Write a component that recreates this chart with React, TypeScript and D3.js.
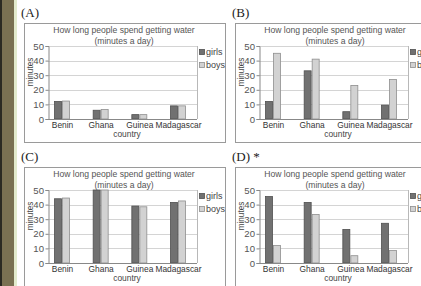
import React, { useEffect, useRef } from "react";
import * as d3 from "d3";

const countries = ["Benin", "Ghana", "Guinea", "Madagascar"];
const groups = ["girls", "boys"];
const yTicks = [0, 10, 20, 30, 40, 50];

const girlsA = [12, 6, 3, 9];
const boysA = [12.3, 6.5, 3, 9];
const girlsB = [12, 33, 5, 9.5];
const boysB = [45, 41, 23, 27];
const girlsC = [44, 50, 39, 41.5];
const boysC = [44.5, 50, 38.5, 42.5];
const girlsD = [45.5, 41.5, 23, 27.2];
const boysD = [12, 33.2, 5, 8.5];

const panelLabels = ["(A)", "(B)", "(C)", "(D) *"];
const panelGirls = [girlsA, girlsB, girlsC, girlsD];
const panelBoys = [boysA, boysB, boysC, boysD];

const W = 421;
const H = 286;
const SANS = "Liberation Sans, Arial, sans-serif";

export default function App() {
  const ref = useRef(null);

  useEffect(() => {
    const svg = d3.select(ref.current);
    svg.selectAll("*").remove();

    svg.append("rect").attr("width", W).attr("height", H).attr("fill", "#ffffff");

    // dark page edge on the left
    svg.append("rect").attr("x", 0).attr("y", 0).attr("width", 2).attr("height", H).attr("fill", "#2b2a22");
    svg.append("rect").attr("x", 2).attr("y", 0).attr("width", 12).attr("height", H).attr("fill", "#7a7152");
    svg.append("rect").attr("x", 14).attr("y", 0).attr("width", 3).attr("height", H).attr("fill", "#e3ebcd");

    const colour = d3.scaleOrdinal().domain(groups).range(["#717171", "#d2d2d2"]);
    const edge = d3.scaleOrdinal().domain(groups).range(["#505050", "#8e8e8e"]);

    panelLabels.forEach((label, i) => {
      const ox = i % 2 === 0 ? 0 : 211;
      const oy = i < 2 ? 0 : 144;
      const p = svg.append("g").attr("transform", `translate(${ox},${oy})`);

      p.append("text")
        .attr("x", 21)
        .attr("y", 17)
        .attr("font-family", "Liberation Serif, serif")
        .attr("font-size", 13)
        .attr("fill", "#222")
        .text(label);

      const box = p.append("g").attr("transform", "translate(24,23)");
      box.append("rect")
        .attr("x", 0.5)
        .attr("y", 0.5)
        .attr("width", 201)
        .attr("height", 119)
        .attr("fill", "#fff")
        .attr("stroke", "#9a9a9a");

      const px0 = 24, px1 = 173, py0 = 23, py1 = 96;
      const y = d3.scaleLinear().domain([0, 50]).range([py1, py0]);
      const x = d3.scalePoint().domain(countries).range([px0 + 14, px0 + 130]);
      const xg = d3.scaleBand().domain(groups).range([-8, 8]);

      // title
      const title = box.append("g")
        .attr("font-family", SANS)
        .attr("font-size", 8.6)
        .attr("fill", "#555")
        .attr("text-anchor", "middle");
      title.append("text").attr("x", 100).attr("y", 10).text("How long people spend getting water");
      title.append("text").attr("x", 100).attr("y", 21).text("(minutes a day)");

      // gridlines
      box.append("g")
        .selectAll("line")
        .data(yTicks)
        .enter()
        .append("line")
        .attr("x1", px0)
        .attr("x2", px1)
        .attr("y1", (d) => Math.round(y(d)) + 0.5)
        .attr("y2", (d) => Math.round(y(d)) + 0.5)
        .attr("stroke", "#d4d4d4");

      box.append("line")
        .attr("x1", px1 + 0.5).attr("x2", px1 + 0.5)
        .attr("y1", py0).attr("y2", py1)
        .attr("stroke", "#b8b8b8");

      // bars
      const rows = countries.map((c, k) => ({ c, girls: panelGirls[i][k], boys: panelBoys[i][k] }));
      box.append("g")
        .selectAll("g")
        .data(rows)
        .enter()
        .append("g")
        .attr("transform", (d) => `translate(${x(d.c)},0)`)
        .selectAll("rect")
        .data((d) => groups.map((g) => ({ g, v: d[g] })))
        .enter()
        .append("rect")
        .attr("x", (d) => xg(d.g) + 0.5)
        .attr("y", (d) => y(d.v))
        .attr("width", xg.bandwidth() - 1)
        .attr("height", (d) => y(0) - y(d.v))
        .attr("fill", (d) => colour(d.g))
        .attr("stroke", (d) => edge(d.g))
        .attr("stroke-width", 0.8);

      // y axis
      const ya = box.append("g")
        .attr("transform", `translate(${px0 + 0.5},0)`)
        .call(d3.axisLeft(y).tickValues(yTicks).tickSize(3).tickPadding(1.5));
      ya.select(".domain").attr("stroke", "#888");
      ya.selectAll(".tick line").attr("stroke", "#888");
      ya.selectAll("text")
        .attr("font-family", SANS)
        .attr("font-size", 9.6)
        .attr("fill", "#555");

      // x axis
      const xa = box.append("g")
        .attr("transform", `translate(0,${py1 + 0.5})`)
        .call(d3.axisBottom(x).tickSize(0).tickPadding(3));
      xa.select(".domain").attr("stroke", "#888").attr("d", `M${px0},0H${px1}`);
      xa.selectAll("text")
        .attr("font-family", SANS)
        .attr("font-size", 8.4)
        .attr("fill", "#333");

      box.append("text")
        .attr("x", 103)
        .attr("y", 114)
        .attr("text-anchor", "middle")
        .attr("font-family", SANS)
        .attr("font-size", 8.4)
        .attr("fill", "#444")
        .text("country");

      box.append("text")
        .attr("transform", "translate(9,49) rotate(-90)")
        .attr("text-anchor", "middle")
        .attr("font-family", SANS)
        .attr("font-size", 8.2)
        .attr("fill", "#444")
        .text("minutes");

      // legend
      const lg = box.append("g")
        .selectAll("g")
        .data(groups)
        .enter()
        .append("g")
        .attr("transform", (d, k) => `translate(175,${29 + k * 13})`);
      lg.append("rect")
        .attr("x", 0.5)
        .attr("y", -2.5)
        .attr("width", 5)
        .attr("height", 5)
        .attr("fill", (d) => colour(d))
        .attr("stroke", (d) => edge(d))
        .attr("stroke-width", 0.8);
      lg.append("text")
        .attr("x", 7)
        .attr("y", 3.2)
        .attr("font-family", SANS)
        .attr("font-size", 9)
        .attr("fill", "#444")
        .text((d) => d);
    });
  }, []);

  return (
    <svg
      ref={ref}
      width={W}
      height={H}
      style={{ position: "absolute", left: 0, top: 0, display: "block" }}
    />
  );
}
